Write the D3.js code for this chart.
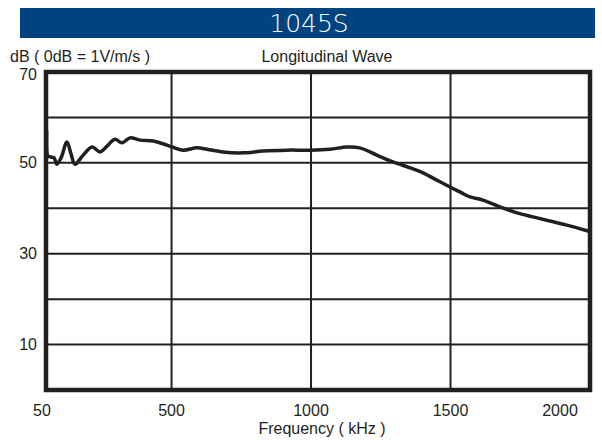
<!DOCTYPE html>
<html>
<head>
<meta charset="utf-8">
<script src="https://cdn.jsdelivr.net/npm/d3@7"></script>
<style>
  body { margin: 0; background: #fff; }
  text { font-family: "Liberation Sans", Arial, sans-serif; fill: #231f20; }
</style>
</head>
<body>
<svg id="chart" width="602" height="440"></svg>
<script>
// -----------------------------
//  DATA
// -----------------------------
const title = "1045S";
const freq = [50, 52, 57, 68, 79, 89, 104, 125, 140, 154, 183, 215, 244, 269, 297, 322, 351, 387, 434, 484,
    502, 541, 591, 627, 684, 756, 828, 914, 996, 1068, 1129, 1175, 1236, 1294, 1355, 1401, 1451, 1498,
    1534, 1570, 1616, 1677, 1738, 1796, 1856, 1917, 1993];
const level = [55.5, 57.0, 51.5, 51.3, 51.1, 49.7, 51.1, 54.6, 51.9, 49.7, 51.7, 53.5, 52.4, 53.7, 55.2, 54.4, 55.5, 55.0, 54.8, 53.9,
    53.5, 52.8, 53.3, 53.0, 52.4, 52.2, 52.6, 52.8, 52.8, 53.0, 53.5, 53.3, 51.7, 50.2, 48.9, 47.8, 46.2, 44.7,
    43.6, 42.5, 41.8, 40.3, 39.0, 38.1, 37.2, 36.3, 35.0];

const xTicks = [50, 500, 1000, 1500, 2000];
const xGrid = [500, 1000, 1500];
const yGrid = [10, 20, 30, 40, 50, 60];
const yLabels = [70, 50, 30, 10];

// -----------------------------
//  LAYOUT
// -----------------------------
const svg = d3.select("#chart");
const ink = "#231f20";
const plot = { left: 46, right: 590, top: 72, bottom: 390 };

const x = d3.scaleLinear().domain([50, 2000]).range([plot.left, plot.right]);
const y = d3.scaleLinear().domain([0, 70]).range([plot.bottom, plot.top]);

// title bar
svg.append("rect")
    .attr("x", 20).attr("y", 8)
    .attr("width", 575).attr("height", 30)
    .attr("fill", "#00447f");

svg.append("text")
    .attr("x", 309).attr("y", 32)
    .attr("text-anchor", "middle")
    .attr("font-size", 25)
    .style("fill", "#fff")
    .style("font-family", "'DejaVu Sans', sans-serif")
    .style("font-weight", 300)
    .text(title);

svg.append("text")
    .attr("x", 10).attr("y", 62)
    .attr("font-size", 16)
    .text("dB ( 0dB = 1V/m/s )");

svg.append("text")
    .attr("x", 327).attr("y", 62)
    .attr("text-anchor", "middle")
    .attr("font-size", 16)
    .text("Longitudinal Wave");

// -----------------------------
//  GRID
// -----------------------------
const grid = svg.append("g").attr("stroke", ink).attr("stroke-width", 2);

grid.selectAll("line.h")
    .data(yGrid)
    .enter()
    .append("line")
    .attr("class", "h")
    .attr("x1", plot.left).attr("x2", plot.right)
    .attr("y1", (d) => y(d)).attr("y2", (d) => y(d));

grid.selectAll("line.v")
    .data(xGrid)
    .enter()
    .append("line")
    .attr("class", "v")
    .attr("x1", (d) => x(d)).attr("x2", (d) => x(d))
    .attr("y1", plot.top).attr("y2", plot.bottom);

// frame
svg.append("rect")
    .attr("x", plot.left).attr("y", plot.top)
    .attr("width", plot.right - plot.left)
    .attr("height", plot.bottom - plot.top)
    .attr("fill", "none")
    .attr("stroke", ink)
    .attr("stroke-width", 4.5);

// -----------------------------
//  AXES LABELS
// -----------------------------
svg.append("g")
    .selectAll("text")
    .data(yLabels)
    .enter()
    .append("text")
    .attr("x", 37)
    .attr("y", (d) => y(d) + (d === 70 ? 2 : 0))
    .attr("dy", "0.35em")
    .attr("text-anchor", "end")
    .attr("font-size", 16)
    .text((d) => d);

svg.append("g")
    .selectAll("text")
    .data(xTicks)
    .enter()
    .append("text")
    .attr("x", (d) => x(d))
    // the last label sits left of the frame edge in the original
    .attr("dx", (d, i) => (i === 0 ? -4 : i === xTicks.length - 1 ? -30 : 0))
    .attr("y", 416)
    .attr("text-anchor", "middle")
    .attr("font-size", 16)
    .text((d) => d);

svg.append("text")
    .attr("x", 322).attr("y", 434)
    .attr("text-anchor", "middle")
    .attr("font-size", 16)
    .text("Frequency ( kHz )");

// -----------------------------
//  RESPONSE CURVE
// -----------------------------
const line = d3.line()
    .x((d, i) => x(freq[i]))
    .y((d) => y(d))
    .curve(d3.curveCatmullRom.alpha(0.5));

svg.append("path")
    .datum(level)
    .attr("d", line)
    .attr("fill", "none")
    .attr("stroke", ink)
    .attr("stroke-width", 3.5)
    .attr("stroke-linejoin", "round")
    .attr("stroke-linecap", "round");
</script>
</body>
</html>
